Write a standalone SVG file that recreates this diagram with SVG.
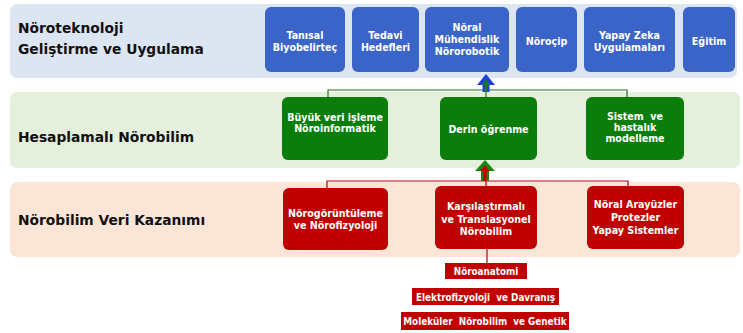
<svg xmlns="http://www.w3.org/2000/svg" width="743" height="333" viewBox="0 0 743 333">
<style>
.title{font-family:"DejaVu Sans",Verdana,sans-serif;font-weight:bold;font-size:13.8px;fill:#111}
.bt{font-family:"DejaVu Sans Condensed","DejaVu Sans",sans-serif;font-stretch:condensed;font-weight:bold;font-size:10.6px;fill:#fff;text-anchor:middle}
.lt{font-size:9.8px}
.blue{fill:#3b64c8}
.green{fill:#0a7d0a}
.red{fill:#c00000}
.gl{stroke:#2a6e1a;stroke-width:1.2;fill:none}
.rl{stroke:#b00010;stroke-width:1.2;fill:none}
</style>
<rect width="743" height="333" fill="#fff"/>
<g id="band-top">
<rect x="10" y="4" width="727" height="74" rx="7" fill="#dce6f3"/>
<text class="title" x="18" y="33">Nöroteknoloji</text>
<text class="title" x="18" y="54">Geliştirme ve Uygulama</text>
</g>
<g id="band-mid">
<rect x="10" y="92" width="730" height="76" rx="7" fill="#e5f0dc"/>
<text class="title" x="18" y="142">Hesaplamalı Nörobilim</text>
</g>
<g id="band-bot">
<rect x="10" y="182" width="730" height="75" rx="7" fill="#fbe5d7"/>
<text class="title" x="18" y="225">Nörobilim Veri Kazanımı</text>
</g>

<g id="connectors">
<polyline class="gl" points="328,97 328,90 627,90 627,97"/>
<line class="gl" x1="486" y1="90" x2="486" y2="97"/>
<polyline class="rl" points="327,188 327,181 628,181 628,187"/>
<line class="rl" x1="486" y1="181" x2="486" y2="186"/>
<line class="rl" x1="487" y1="249" x2="487" y2="263"/>
<polygon points="486,74 495,85 489.5,85 489.5,92 482.5,92 482.5,85 477,85" fill="#1f3fe0"/>
<polygon points="486,79 490,85 487.3,85 487.3,92 484.7,92 484.7,85 482,85" fill="#1e7a1e"/>
<polygon points="485,160 495,171 489,171 489,181 481,181 481,171 475,171" fill="#138a13"/>
<polygon points="485,165 490,171 486.6,171 486.6,181 483.4,181 483.4,171 480,171" fill="#c80000"/>
</g>

<g id="n-tanisal"><rect class="blue" x="265" y="7" width="80" height="65" rx="6"/><text class="bt" x="305" y="39">Tanısal</text><text class="bt" x="305" y="51">Biyobelirteç</text></g>
<g id="n-tedavi"><rect class="blue" x="352" y="7" width="67" height="65" rx="6"/><text class="bt" x="385.5" y="39">Tedavi</text><text class="bt" x="385.5" y="51">Hedefleri</text></g>
<g id="n-noral"><rect class="blue" x="425" y="7" width="84" height="65" rx="6"/><text class="bt" x="467" y="31">Nöral</text><text class="bt" x="467" y="43">Mühendislik</text><text class="bt" x="467" y="55">Nörorobotik</text></g>
<g id="n-norocip"><rect class="blue" x="516" y="7" width="61" height="65" rx="6"/><text class="bt" x="546.5" y="45">Nöroçip</text></g>
<g id="n-yapay"><rect class="blue" x="584" y="7" width="91" height="65" rx="6"/><text class="bt" x="629.5" y="39">Yapay Zeka</text><text class="bt" x="629.5" y="51">Uygulamaları</text></g>
<g id="n-egitim"><rect class="blue" x="683" y="7" width="52" height="65" rx="6"/><text class="bt" x="709" y="45">Eğitim</text></g>

<g id="n-buyuk"><rect class="green" x="282" y="97" width="106" height="63" rx="6"/><text class="bt" x="335" y="121">Büyük veri işleme</text><text class="bt" x="335" y="132">Nöroinformatik</text></g>
<g id="n-derin"><rect class="green" x="440" y="97" width="97" height="63" rx="6"/><text class="bt" x="488.5" y="133">Derin öğrenme</text></g>
<g id="n-sistem"><rect class="green" x="586" y="97" width="98" height="63" rx="6"/><text class="bt" x="635" y="120" xml:space="preserve">Sistem  ve</text><text class="bt" x="635" y="131">hastalık</text><text class="bt" x="635" y="142">modelleme</text></g>

<g id="n-norogor"><rect class="red" x="283" y="188" width="105" height="62" rx="6"/><text class="bt" x="335.5" y="217">Nörogörüntüleme</text><text class="bt" x="335.5" y="229">ve Nörofizyoloji</text></g>
<g id="n-karsi"><rect class="red" x="435" y="186" width="102" height="63" rx="6"/><text class="bt" x="486" y="210">Karşılaştırmalı</text><text class="bt" x="486" y="223">ve Translasyonel</text><text class="bt" x="486" y="235">Nörobilim</text></g>
<g id="n-arayuz"><rect class="red" x="587" y="186" width="97" height="63" rx="6"/><text class="bt" x="635.5" y="208">Nöral Arayüzler</text><text class="bt" x="635.5" y="221">Protezler</text><text class="bt" x="635.5" y="234">Yapay Sistemler</text></g>

<g id="n-anatomi"><rect class="red" x="445" y="263" width="82" height="16"/><text class="bt lt" x="486" y="275">Nöroanatomi</text></g>
<g id="n-elektro"><rect class="red" x="412" y="288" width="147" height="17"/><text class="bt lt" x="485.5" y="300.5" xml:space="preserve">Elektrofizyoloji  ve Davranış</text></g>
<g id="n-molek"><rect class="red" x="401" y="312" width="168" height="18"/><text class="bt lt" x="485" y="325" xml:space="preserve">Moleküler  Nörobilim  ve Genetik</text></g>
</svg>
